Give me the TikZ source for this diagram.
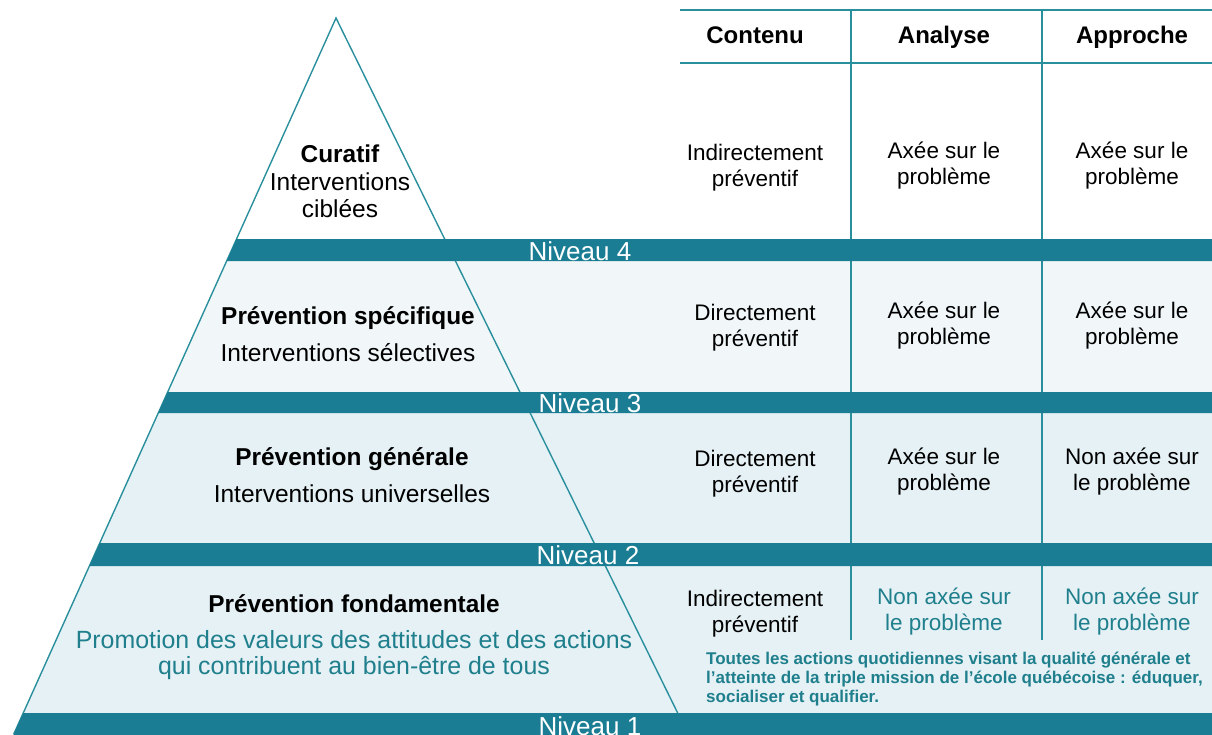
\documentclass[tikz,border=0pt]{standalone}
\usepackage{fontspec}
\setmainfont{Liberation Sans}
\definecolor{barc}{HTML}{1B7D93}
\definecolor{linec}{HTML}{2A8F9C}
\definecolor{tealtxt}{HTML}{1F7F8C}
\definecolor{palea}{HTML}{F1F7F9}
\definecolor{paleb}{HTML}{E5F1F5}
\begin{document}
\begin{tikzpicture}[x=1pt,y=-1pt,
  bar/.style={fill=barc,draw=none},
  lvl/.style={text=white,font=\fontsize{26}{28}\selectfont,inner sep=0pt},
  cell/.style={align=center,font=\fontsize{22.5}{26}\selectfont,inner sep=0pt},
  head/.style={anchor=base,font=\bfseries\fontsize{24}{26}\selectfont,inner sep=0pt},
  ptitle/.style={font=\bfseries\fontsize{24.4}{27}\selectfont,inner sep=0pt},
  psub/.style={align=center,font=\fontsize{24.5}{27}\selectfont,inner sep=0pt},
  grid/.style={draw=linec,line width=1.6pt},
  pyr/.style={draw=linec,line width=1.4pt}]
\useasboundingbox (0,0) rectangle (1212,734);
% coordinates of the pyramid
\coordinate (apex) at (336,18);
\coordinate (bl) at (13.8,734);
\coordinate (br) at (688,734);
% pale bands
\fill[palea] (226.65,261) -- (1212,261) -- (1212,392) -- (167.7,392) -- cycle;
\fill[paleb] (158.25,413) -- (1212,413) -- (1212,543) -- (99.75,543) -- cycle;
\fill[paleb] (89.4,566) -- (1212,566) -- (1212,713) -- (23.25,713) -- cycle;
% table lines
\coordinate (tl) at (680,10);
\coordinate (tr) at (1212,10);
\coordinate (hl) at (680,63);
\coordinate (hr) at (1212,63);
\draw[grid] (tl) -- (tr);
\draw[grid] (hl) -- (hr);
\coordinate (v1t) at (851,10);
\coordinate (v1b) at (851,640);
\coordinate (v2t) at (1042,10);
\coordinate (v2b) at (1042,640);
\draw[grid] (v1t) -- (v1b);
\draw[grid] (v2t) -- (v2b);
% pyramid outline
\draw[pyr] (bl) -- (apex) -- (br);
% bars
\fill[bar] (236.55,239) -- (1212,239) -- (1212,261) -- (226.65,261) -- cycle;
\fill[bar] (167.7,392) -- (1212,392) -- (1212,413) -- (158.25,413) -- cycle;
\fill[bar] (99.75,543) -- (1212,543) -- (1212,566) -- (89.4,566) -- cycle;
\fill[bar] (23.25,713) -- (1212,713) -- (1212,740) -- (11,740) -- cycle;
% level labels
\node[lvl] (n4) at (580,251) {Niveau 4};
\node[lvl] (n3) at (590,403) {Niveau 3};
\node[lvl] (n2) at (588,555) {Niveau 2};
\node[lvl] (n1) at (590,726) {Niveau 1};
% header
\node[head] (hc) at (755,43) {Contenu};
\node[head] (ha) at (944,43) {Analyse};
\node[head] (hp) at (1132,43) {Approche};
% row 1
\node[cell] (c11) at (755,168) {Indirectement\\préventif};
\node[cell] (c12) at (944,166) {Axée sur le\\problème};
\node[cell] (c13) at (1132,166) {Axée sur le\\problème};
% row 2
\node[cell] (c21) at (755,328) {Directement\\préventif};
\node[cell] (c22) at (944,326) {Axée sur le\\problème};
\node[cell] (c23) at (1132,326) {Axée sur le\\problème};
% row 3
\node[cell] (c31) at (755,474) {Directement\\préventif};
\node[cell] (c32) at (944,472) {Axée sur le\\problème};
\node[cell] (c33) at (1132,472) {Non axée sur\\le problème};
% row 4
\node[cell] (c41) at (755,614) {Indirectement\\préventif};
\node[cell,text=tealtxt] (c42) at (944,612) {Non axée sur\\le problème};
\node[cell,text=tealtxt] (c43) at (1132,612) {Non axée sur\\le problème};
% note
\node[anchor=north west,align=left,text=tealtxt,inner sep=0pt,
  font=\bfseries\fontsize{17}{19}\selectfont] (note) at (706,652)
  {Toutes les actions quotidiennes visant la qualité générale et\\
   l’atteinte de la triple mission de l’école québécoise : éduquer,\\
   socialiser et qualifier.};
% pyramid texts
\node[ptitle] (t4) at (340,154) {Curatif};
\node[psub] (s4) at (340,195) {Interventions\\ciblées};
\node[ptitle] (t3) at (348,318) {Prévention spécifique};
\node[psub] (s3) at (348,353) {Interventions sélectives};
\node[ptitle] (t2) at (352,459) {Prévention générale};
\node[psub] (s2) at (352,494) {Interventions universelles};
\node[ptitle] (t1) at (354,604) {Prévention fondamentale};
\node[psub,font=\fontsize{24.9}{26.5}\selectfont,text=tealtxt] (s1) at (354,655) {Promotion des valeurs des attitudes et des actions\\qui contribuent au bien-être de tous};
\end{tikzpicture}
\end{document}
